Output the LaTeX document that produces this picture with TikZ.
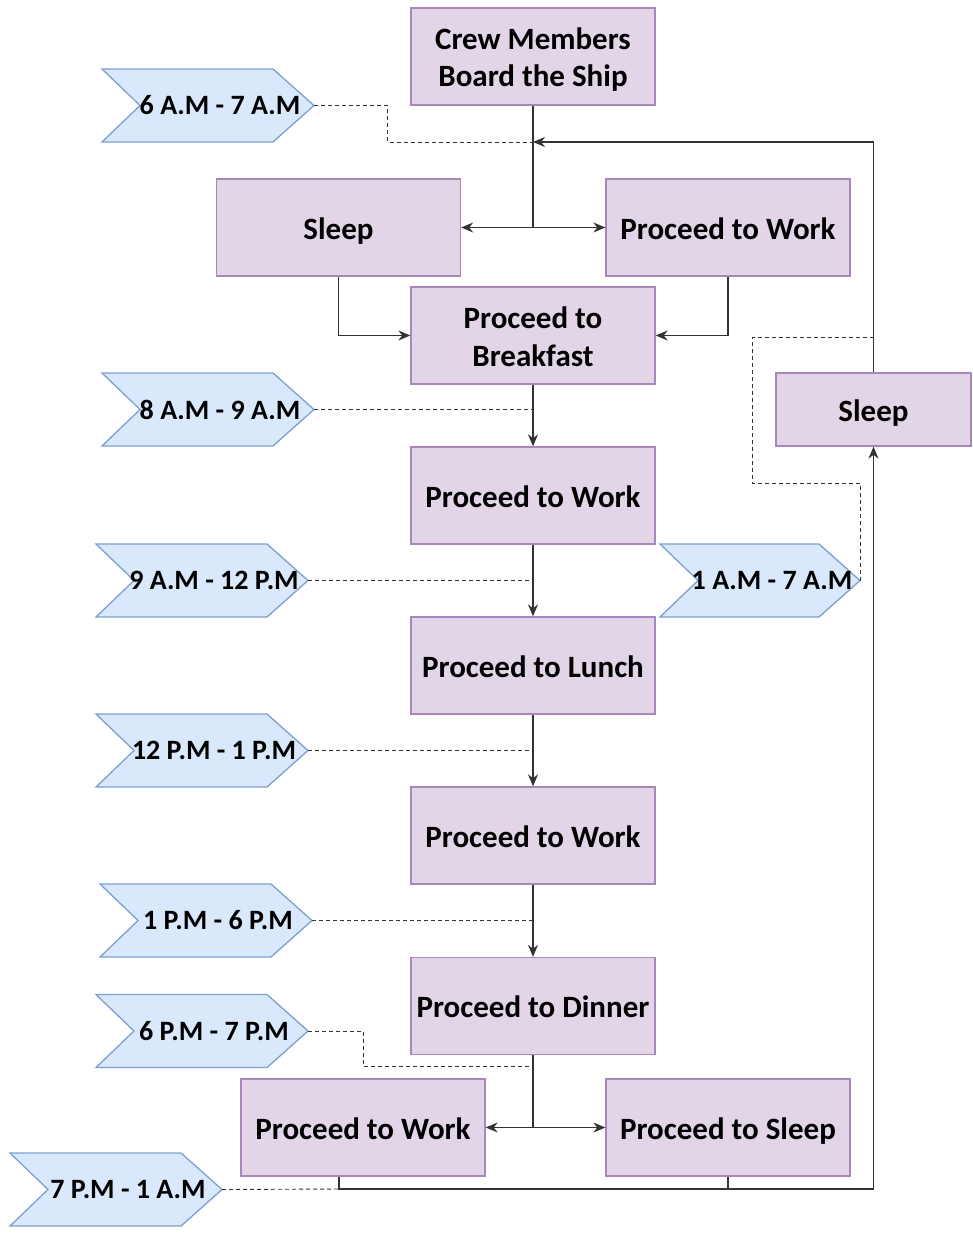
\documentclass[tikz,border=0pt]{standalone}
\usepackage{fontspec}
\setmainfont{Carlito}
\usetikzlibrary{arrows.meta,backgrounds}
\definecolor{boxfill}{HTML}{E1D5E7}
\definecolor{boxline}{HTML}{A888BA}
\definecolor{tagfill}{HTML}{DAE8FC}
\definecolor{tagline}{HTML}{7E9FD0}
\definecolor{wire}{HTML}{333333}
% label text, nudged towards the pointed end of the tag
\newcommand{\tagtext}[1]{\makebox[0pt]{\hspace*{24pt}#1}}
% chevron outline behind a tag node
\newcommand{\tagoutline}[1]{%
  \begin{pgfonlayer}{background}
    \draw[tagshape] (#1.north west) -- ([xshift=-41pt]#1.north east) -- (#1.east)
      -- ([xshift=-41pt]#1.south east) -- (#1.south west) -- ([xshift=38pt]#1.west) -- cycle;
  \end{pgfonlayer}}
\tikzset{
  stepbox/.style={rectangle, draw=boxline, fill=boxfill, line width=1.3pt,
    minimum width=244pt, minimum height=97pt, inner sep=0pt, align=center,
    font=\bfseries\fontsize{31}{37.5}\selectfont, text height=27pt, text depth=4pt},
  twolines/.style={text height=65pt, text depth=4pt},
  smallbox/.style={stepbox, minimum width=195pt, minimum height=73pt},
  timetag/.style={rectangle, minimum width=212pt, minimum height=73pt,
    inner sep=0pt, outer sep=0pt, font=\bfseries\fontsize{28}{34}\selectfont},
  tagshape/.style={draw=tagline, fill=tagfill, line width=1.3pt, line join=miter},
  flow/.style={draw=wire, line width=1.3pt},
  arr/.style={flow, -{Stealth[length=12pt,width=10pt]}},
  guide/.style={draw=wire, line width=0.9pt, dash pattern=on 4pt off 3pt}
}
\begin{document}
\begin{tikzpicture}[x=1pt,y=-1pt]
\useasboundingbox (0,0) rectangle (973,1236);

% activity boxes
\node[stepbox, twolines] (crew) at (533,56.5) {Crew Members\\Board the Ship};
\node[stepbox] (sleepA) at (338.5,227.5) {Sleep};
\node[stepbox] (workA)  at (728,227.5)  {Proceed to Work};
\node[stepbox, twolines] (bfast) at (533,335.5) {Proceed to\\Breakfast};
\node[stepbox] (work1)  at (533,495.5)  {Proceed to Work};
\node[stepbox] (lunch)  at (533,665.5)  {Proceed to Lunch};
\node[stepbox] (work2)  at (533,835.5)  {Proceed to Work};
\node[stepbox] (dinner) at (533,1006)   {Proceed to Dinner};
\node[stepbox] (work3)  at (363,1127.5) {Proceed to Work};
\node[stepbox] (sleepB) at (728,1127.5) {Proceed to Sleep};
\node[smallbox] (sleepC) at (873.5,409.5) {Sleep};

% time tags
\node[timetag] (t1) at (208,105.5)  {\tagtext{6 A.M - 7 A.M}};
\node[timetag] (t2) at (208,409.5)  {\tagtext{8 A.M - 9 A.M}};
\node[timetag] (t3) at (202,580.5)  {\tagtext{9 A.M - 12 P.M}};
\node[timetag] (t4) at (202,750.5)  {\tagtext{12 P.M - 1 P.M}};
\node[timetag] (t5) at (206,920.5)  {\tagtext{1 P.M - 6 P.M}};
\node[timetag] (t6) at (202,1031)   {\tagtext{6 P.M - 7 P.M}};
\node[timetag] (t7) at (116,1189.5) {\tagtext{7 P.M - 1 A.M}};
\node[timetag, minimum width=200pt] (t8) at (760,580.5) {\tagtext{1 A.M - 7 A.M}};
\foreach \t in {t1,t2,t3,t4,t5,t6,t7,t8} {\tagoutline{\t}}

% junction points
\coordinate (split1)  at (533,227.5);
\coordinate (topjoin) at (533,142);
\coordinate (split2)  at (533,1127.5);
\coordinate (w3foot)  at (339,1189);
\coordinate (d1)      at (387,142);
\coordinate (d6)      at (363,1066);
\coordinate (d8a)     at (752,483);
\coordinate (d8b)     at (752,337);

% guide lines from the time tags
\draw[guide] (t1.east) -| (d1) -- (topjoin);
\draw[guide] (t2.east) -- (t2.east -| bfast.south);
\draw[guide] (t3.east) -- (t3.east -| work1.south);
\draw[guide] (t4.east) -- (t4.east -| lunch.south);
\draw[guide] (t5.east) -- (t5.east -| work2.south);
\draw[guide] (t6.east) -| (d6) -- (d6 -| dinner.south);
\draw[guide] (t7.east) -- (w3foot);
\draw[guide] (t8.east) |- (d8a) -- (d8b) -- (d8b -| sleepC.north);

% main flow
\draw[flow] (crew.south) -- (split1);
\draw[arr] (split1) -- (sleepA.east);
\draw[arr] (split1) -- (workA.west);
\draw[arr] (sleepA.south) |- (bfast.west);
\draw[arr] (workA.south) |- (bfast.east);
\draw[arr] (bfast.south) -- (work1.north);
\draw[arr] (work1.south) -- (lunch.north);
\draw[arr] (lunch.south) -- (work2.north);
\draw[arr] (work2.south) -- (dinner.north);
\draw[flow] (dinner.south) -- (split2);
\draw[arr] (split2) -- (work3.east);
\draw[arr] (split2) -- (sleepB.west);

% night loop back to the start of the day
\draw[arr] (work3.south -| w3foot) -- (w3foot) -| (sleepC.south);
\draw[flow] (sleepB.south) -- (sleepB.south |- w3foot);
\draw[arr] (sleepC.north) |- (topjoin);
\end{tikzpicture}
\end{document}
